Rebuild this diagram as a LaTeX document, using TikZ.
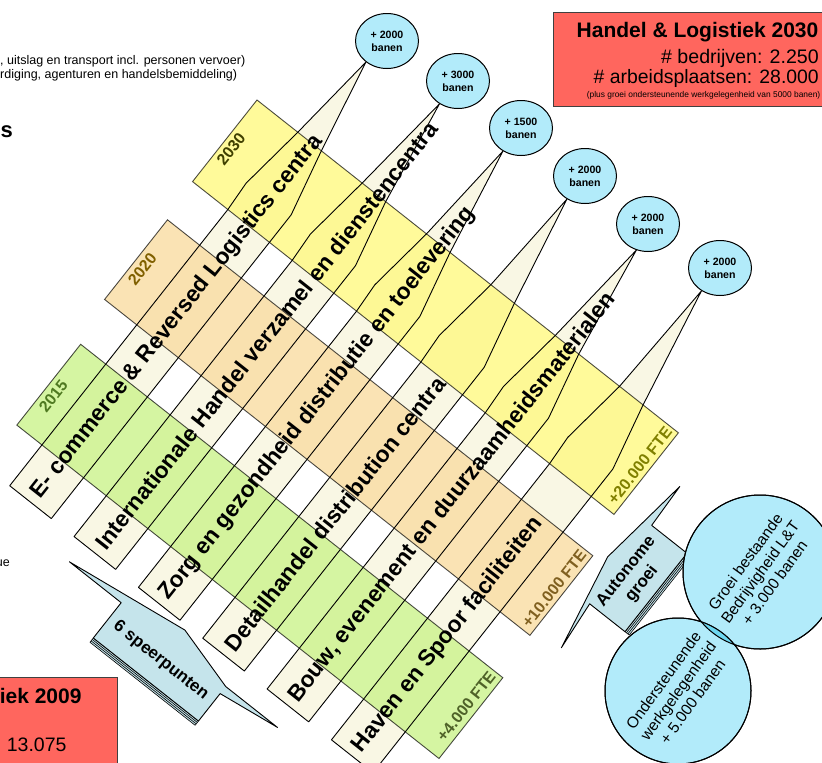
\documentclass[tikz,border=0pt]{standalone}
\usepackage{fontspec}
\setmainfont{Liberation Sans}
\usetikzlibrary{shapes.geometric}

\definecolor{bandyellow}{RGB}{255,249,132}
\definecolor{bandpeach}{RGB}{249,221,164}
\definecolor{bandgreen}{RGB}{204,243,142}
\definecolor{stripcream}{RGB}{249,247,228}
\definecolor{bubbleblue}{RGB}{178,235,250}
\definecolor{lensblue}{RGB}{110,215,240}
\definecolor{calloutblue}{RGB}{197,228,235}
\definecolor{boxred}{RGB}{255,102,94}
\definecolor{lab2030}{RGB}{64,64,0}
\definecolor{lab2020}{RGB}{128,96,0}
\definecolor{lab2015}{RGB}{79,121,33}
\definecolor{fte2030}{RGB}{128,128,0}
\definecolor{fte2020}{RGB}{128,96,32}
\definecolor{fte2015}{RGB}{79,98,40}

\tikzset{
  bubble/.style={ellipse, draw, line width=1pt, fill=bubbleblue, minimum width=63pt,
    minimum height=55pt, inner sep=0pt, align=center, font=\fontsize{10.6}{12.7}\selectfont\bfseries},
  stripline/.style={draw=black, line width=0.9pt, line join=round},
  band/.style={fill opacity=0.82},
  bandline/.style={draw=black, draw opacity=0.7, line width=0.9pt},
  striptext/.style={font=\fontsize{22.8}{27}\selectfont\bfseries, inner sep=0pt, rotate=90, anchor=west},
  yeartext/.style={font=\fontsize{16}{19}\selectfont\bfseries, inner sep=0pt, rotate=90},
  ftetext/.style={yeartext, anchor=east},
  callout/.style={fill=calloutblue, draw=black, line width=0.9pt, line join=round},
  stack/.style={line width=0.6pt},
  growth/.style={circle, draw, line width=1pt, fill=bubbleblue, inner sep=0pt, align=center,
    rotate=54, font=\fontsize{15.5}{18}\selectfont},
  redbox/.style={fill=boxred, draw=black!75, line width=1.3pt, inner sep=0pt},
  smalltext/.style={inner sep=0pt, font=\fontsize{12.5}{15}\selectfont},
}

\begin{document}
\begin{tikzpicture}[x=1pt, y=-1pt]
    \useasboundingbox (0,0) rectangle (822,763);

    % cut-off texts at the left edge
    \node[smalltext, anchor=base west] (sector1) at (0,64) {, uitslag en transport incl. personen vervoer)};
    \node[smalltext, anchor=base west] (sector2) at (0,78.3) {rdiging, agenturen en handelsbemiddeling)};
    \node[anchor=base east, inner sep=0pt, font=\fontsize{22}{26}\selectfont\bfseries] (headtail) at (13,137) {s};
    \node[smalltext, anchor=base east] (notetail) at (10,566) {ue};

    % job bubbles
    \node[bubble] (b1) at (387,41) {+ 2000\\banen};
    \node[bubble] (b2) at (458,81) {+ 3000\\banen};
    \node[bubble] (b3) at (521,128) {+ 1500\\banen};
    \node[bubble] (b4) at (585,176) {+ 2000\\banen};
    \node[bubble] (b5) at (648,224) {+ 2000\\banen};
    \node[bubble] (b6) at (720,268) {+ 2000\\banen};

    \begin{scope}[shift={(257,100)}, rotate=-38.3, transform shape]
      % strips with their pointers
      \foreach \k/\ang in {1/225,2/231,3/232,4/232,5/246,6/231} {
        \pgfmathsetmacro\lefts{45+82*(\k-1)}
        \pgfmathsetmacro\rights{\lefts+53}
        \fill[stripcream] (\lefts,456) -- (\lefts,104) -- (\lefts-2,72) -- (\lefts+7,0)
          -- (b\k.\ang) -- (\rights-16,0) -- (\rights,69) -- (\rights,456) -- cycle;
      }
      % year bands
      \fill[bandyellow, band] (0,0) rectangle (537,104);
      \fill[bandpeach, band] (4,149.5) rectangle (546,251);
      \fill[bandgreen, band] (13,301) rectangle (551,404);
      \draw[bandline] (0,0) rectangle (537,104) (4,149.5) rectangle (546,251) (13,301) rectangle (551,404);
      \foreach \k/\ang in {1/225,2/231,3/232,4/232,5/246,6/231} {
        \pgfmathsetmacro\lefts{45+82*(\k-1)}
        \pgfmathsetmacro\rights{\lefts+53}
        \draw[stripline] (\lefts,456) -- (\lefts,104) -- (\lefts-2,72) -- (\lefts+7,0)
          -- (b\k.\ang) -- (\rights-16,0) -- (\rights,69) -- (\rights,456) -- cycle;
      }
      \node[yeartext, text=lab2030] (y2030) at (10,54.6) {2030};
      \node[yeartext, text=lab2020] (y2020) at (15,204) {2020};
      \node[yeartext, text=lab2015] (y2015) at (23.5,358.5) {2015};
      \node[ftetext, text=fte2030] (f2030) at (527,3) {+20.000 FTE};
      \node[ftetext, text=fte2020] (f2020) at (536,152.5) {+10.000 FTE};
      \node[ftetext, text=fte2015] (f2015) at (540,304) {+4.000 FTE};
      \node[striptext] (s1) at (71.5,448) {E- commerce \& Reversed Logistics centra};
      \node[striptext] (s2) at (153.5,448) {Internationale Handel verzamel en dienstencentra};
      \node[striptext] (s3) at (235.5,448) {Zorg en gezondheid distributie en toelevering};
      \node[striptext] (s4) at (317.5,448) {Detailhandel distribution centra};
      \node[striptext] (s5) at (399.5,448) {Bouw, evenement en duurzaamheidsmaterialen};
      \node[striptext] (s6) at (481.5,448) {Haven en Spoor faciliteiten};
    \end{scope}

    % 6 speerpunten
    \begin{scope}[shift={(93.3,638)}, rotate=-38.3, transform shape]
      \fill[calloutblue] (0,0) rectangle (134,5.4);
      \foreach \d in {0,1.8,3.6,5.4}
        \draw[stack] (0,\d) -- (134,\d);
      \draw[stack] (0,0) -- (0,5.4) (134,0) -- (134,5.4);
      \draw[callout] (-66,-45) -- (67,-63) -- (134,-44) -- (200,-44) -- (134,-35)
        -- (134,0) -- (0,0) -- (0,-45) -- cycle;
      \node[inner sep=0pt, font=\fontsize{17}{20}\selectfont\bfseries] (speer) at (67,-24) {6 speerpunten};
    \end{scope}

    % autonome groei
    \begin{scope}[shift={(625,631.7)}, rotate=51.7, transform shape]
      \fill[calloutblue] (0,0) rectangle (100,5.4);
      \foreach \d in {0,1.8,3.6,5.4}
        \draw[stack] (0,\d) -- (100,\d);
      \draw[stack] (0,0) -- (0,5.4) (100,0) -- (100,5.4);
      \draw[callout] (-52,-40) -- (48,-60) -- (148,-47) -- (100,-45)
        -- (100,0) -- (0,0) -- (0,-45) -- cycle;
      \node[inner sep=0pt, align=center, font=\fontsize{17}{20}\selectfont\bfseries] (auto) at (48,-26) {Autonome\\groei};
    \end{scope}

    % growth circles
    \node[growth, minimum size=154pt] (grow) at (760,572) {Groei bestaande\\Bedrijvigheid L\&T\\+ 3.000 banen};
    \node[growth, minimum size=146pt] (supp) at (678,691) {Ondersteunende\\werkgelegenheid\\+ 5.000 banen};
    \begin{scope}
      \clip (grow.center) circle (77);
      \fill[lensblue] (supp.center) circle (73);
    \end{scope}
    \draw[line width=1pt] (grow.center) circle (77) (supp.center) circle (73);

    % totals
    \node[redbox, anchor=north west, minimum width=280pt, minimum height=94pt] (box2030) at (553,12) {};
    \node[anchor=base east, inner sep=0pt, font=\fontsize{21}{25}\selectfont\bfseries] (title2030) at (818.5,37.5) {Handel \& Logistiek 2030};
    \node[anchor=base east, inner sep=0pt, font=\fontsize{19.6}{23}\selectfont] (firms2030) at (819,63) {\# bedrijven: 2.250};
    \node[anchor=base east, inner sep=0pt, font=\fontsize{19.4}{23}\selectfont] (jobs2030) at (819,83.3) {\# arbeidsplaatsen: 28.000};
    \node[anchor=base east, inner sep=0pt, font=\fontsize{8.4}{10}\selectfont] (note2030) at (820.5,97.5) {(plus groei ondersteunende werkgelegenheid van 5000 banen)};

    \node[redbox, anchor=north east, minimum width=140pt, minimum height=100pt] (box2009) at (118.3,676.7) {};
    \node[anchor=base east, inner sep=0pt, font=\fontsize{21}{25}\selectfont\bfseries] (title2009) at (81.7,703.3) {iek 2009};
    \node[anchor=base east, inner sep=0pt, font=\fontsize{19.5}{23}\selectfont] (jobs2009) at (66.7,751.7) {: 13.075};
\end{tikzpicture}
\end{document}
